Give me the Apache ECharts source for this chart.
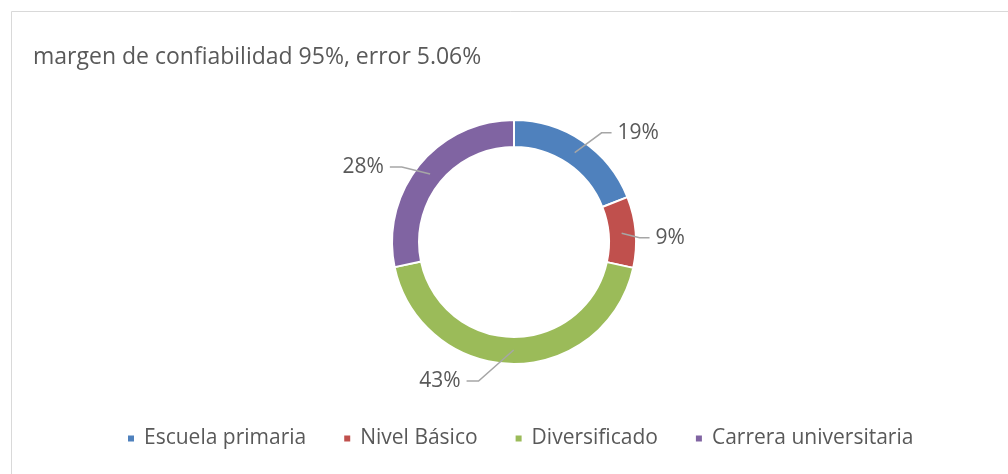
<!DOCTYPE html>
<html>
<head>
<meta charset="utf-8">
<script src="https://cdn.jsdelivr.net/npm/echarts@6/dist/echarts.min.js"></script>
<style>
  html, body { margin: 0; padding: 0; background: #fff; }
  #chart { width: 1008px; height: 474px; }
</style>
</head>
<body>
<div id="chart"></div>
<script>
// values (shares in %)
const categories = ["Escuela primaria", "Nivel Básico", "Diversificado", "Carrera universitaria"];
const shares = [19.0, 9.4, 43.3, 28.3];
const colors = ["#4f81bd", "#c0504d", "#9bbb59", "#8064a2"];
const titleText = "margen de confiabilidad 95%, error 5.06%";

const font = "'Open Sans', sans-serif";
const textColor = "#595959";

// small nudges so the labels sit where Excel put them
const labelNudge = [[8, 5], [-14, 7], [-35, 1], [-5, 12]];

const pieData = categories.map((c, i) => ({ name: c, value: shares[i] }));

var myChart = echarts.init(document.getElementById("chart"), null, { renderer: "canvas" });

function layoutLabel(params) {
  const n = labelNudge[params.dataIndex];
  const r = params.labelRect;
  const pts = params.labelLinePoints;
  if (!pts) return { dx: n[0], dy: n[1] };
  const p0 = pts[0];
  const cy = r.y + r.height / 2 + n[1];
  const rightSide = pts[2][0] >= p0[0];
  let end, mid;
  if (rightSide) {
    end = [r.x + n[0] - 6, cy];
    mid = [end[0] - 10, cy];
  } else {
    end = [r.x + r.width + n[0] + 6, cy];
    mid = [end[0] + 12, cy];
  }
  return { dx: n[0], dy: n[1], labelLinePoints: [p0, mid, end] };
}

var option = {
  backgroundColor: "#fff",
  color: colors,
  animation: false,
  title: {
    text: titleText,
    left: 28,
    top: 41,
    textStyle: { fontFamily: font, fontSize: 23, fontWeight: "normal", color: textColor }
  },
  graphic: [{
    type: "rect",
    shape: { x: 11.5, y: 11.5, width: 1200, height: 700 },
    style: { fill: "none", stroke: "#d9d9d9", lineWidth: 1 },
    silent: true
  }],
  legend: {
    bottom: 20,
    left: 121,
    data: categories,
    icon: "rect",
    itemWidth: 8,
    itemHeight: 8,
    itemGap: 36,
    textStyle: { fontFamily: font, fontSize: 21, color: textColor, padding: [0, 0, 0, 4] }
  },
  series: [
    {
      // the ring itself
      type: "pie",
      center: [514, 242],
      radius: [95, 122],
      startAngle: 90,
      clockwise: true,
      data: pieData,
      itemStyle: { borderColor: "#fff", borderWidth: 2 },
      label: { show: false },
      labelLine: { show: false },
      silent: true
    },
    {
      // invisible pie at mid-ring radius so leader lines start inside the ring
      type: "pie",
      center: [514, 242],
      radius: [0, 108],
      startAngle: 90,
      clockwise: true,
      data: pieData,
      itemStyle: { color: "rgba(0,0,0,0)" },
      silent: true,
      z: 5,
      label: {
        show: true,
        formatter: p => Math.round(p.value) + "%",
        fontFamily: font,
        fontSize: 21,
        color: textColor,
        distanceToLabelLine: 6
      },
      labelLine: {
        show: true,
        length: 30,
        length2: 12,
        lineStyle: { color: "#a6a6a6", width: 1.5 }
      },
      labelLayout: layoutLabel
    }
  ]
};

option && myChart.setOption(option);
</script>
</body>
</html>
